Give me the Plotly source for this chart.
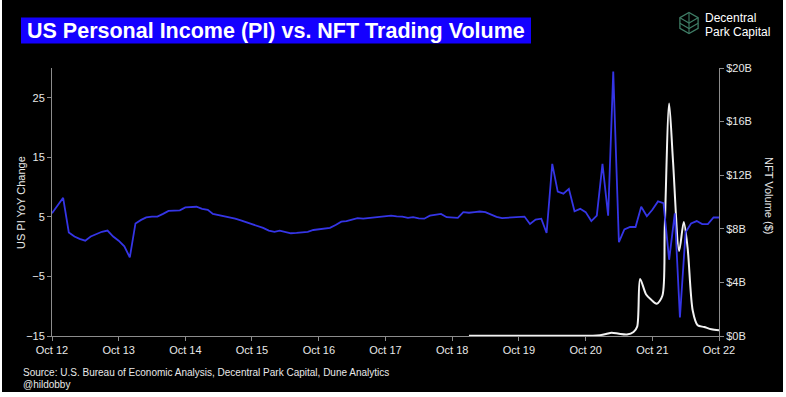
import pandas as pd
import plotly.graph_objects as go

# ---------------- data ----------------
pi_start = "2012-10-01"
pi_values = [
    5.6, 6.9, 8.2, 2.4, 1.7, 1.3, 1.0, 1.7, 2.1, 2.5, 2.7, 1.7,
    1.0, 0.05, -1.8, 3.9, 4.5, 4.9, 5.05, 5.05, 5.5, 6.0, 6.05, 6.1,
    6.6, 6.65, 6.7, 6.35, 6.2, 5.5, 5.3, 5.2, 4.9, 4.7, 4.4, 4.1,
    3.8, 3.4, 3.15, 2.7, 2.5, 2.7, 2.5, 2.25, 2.3, 2.4, 2.5, 2.8,
    2.95, 3.05, 3.15, 3.65, 4.2, 4.3, 4.5, 4.8, 4.7, 4.8, 4.9, 5.05,
    5.15, 5.2, 5.1, 5.05, 4.85, 4.95, 4.75, 4.7, 5.2, 5.4, 5.5, 4.95,
    4.9, 4.85, 5.8, 5.7, 5.8, 5.9, 5.8, 5.4, 5.0, 4.8, 4.85, 4.9,
    4.95, 5.05, 3.8, 4.55, 4.7, 2.3, 13.9, 9.25, 8.9, 9.7, 5.95, 6.35,
    5.8, 4.3, 5.2, 13.9, 5.2, 29.4, 0.75, 2.9, 3.3, 3.3, 6.7, 5.1,
    6.2, 7.6, 7.3, -2.2, 5.6, -11.9, 2.4, 3.9, 4.3, 3.8, 3.8, 4.9,
    4.9,
]
pi_dates = pd.date_range(pi_start, periods=len(pi_values), freq="MS")

nft_dates = [
    "2019-01-01", "2019-07-01", "2020-01-01", "2020-07-01", "2020-12-01",
    "2021-01-20", "2021-02-20", "2021-04-01", "2021-05-15", "2021-06-20",
    "2021-07-10", "2021-07-26", "2021-08-28", "2021-09-25", "2021-10-25",
    "2021-11-25", "2021-12-08", "2022-01-01", "2022-01-22", "2022-02-25",
    "2022-03-22", "2022-04-12", "2022-05-10", "2022-06-06", "2022-07-12",
    "2022-08-20", "2022-10-01",
]
nft_values = [
    0.02, 0.02, 0.02, 0.02, 0.03,
    0.15, 0.25, 0.17, 0.12, 0.3,
    0.7, 4.25, 3.1, 2.7, 2.4,
    3.0, 8.1, 17.35, 13.1, 6.35,
    8.5, 6.6, 1.9, 0.8, 0.67,
    0.5, 0.42,
]

x_tick_dates = [f"{y}-10-01" for y in range(2012, 2023)]
x_tick_text = [f"Oct {str(y)[2:]}" for y in range(2012, 2023)]
pi_ticks = [-15, -5, 5, 15, 25]
nft_ticks = [0, 4, 8, 12, 16, 20]
nft_tick_text = ["$0B", "$4B", "$8B", "$12B", "$16B", "$20B"]

# ---------------- geometry helpers ----------------
W, H = 786, 397
ML, MR, MT, MB = 52, 67, 68, 61
PW, PH = W - ML - MR, H - MT - MB


def px(x):
    return (x - ML) / PW


def py(y):
    return (H - MB - y) / PH


FONT = "Liberation Sans, Arial, Helvetica, sans-serif"
AXIS_COLOR = "#8c8c8c"
TEXT_COLOR = "#e8e8e8"

fig = go.Figure()

# NFT volume (right axis -> primary y so it is drawn below the PI line)
fig.add_trace(go.Scatter(
    x=nft_dates, y=nft_values, mode="lines", yaxis="y",
    line=dict(color="#f2f2f2", width=2, shape="spline", smoothing=0.8),
    hoverinfo="skip", showlegend=False,
))
# US PI YoY change (left axis)
fig.add_trace(go.Scatter(
    x=pi_dates, y=pi_values, mode="lines", yaxis="y2",
    line=dict(color="#3535e6", width=1.8),
    hoverinfo="skip", showlegend=False,
))

shapes = [
    # black card with thin white border
    dict(type="rect", xref="paper", yref="paper", layer="below",
         x0=px(2), x1=px(783), y0=py(392), y1=py(0),
         fillcolor="black", line=dict(width=0)),
    # title background
    dict(type="rect", xref="paper", yref="paper",
         x0=px(21), x1=px(531), y0=py(43.5), y1=py(17.5),
         fillcolor="#1400ff", line=dict(width=0)),
]

# logo icon (hexagon / leaf)
cx, cy, r = 689, 23, 10.5
hx = [cx, cx + 9.1, cx + 9.1, cx, cx - 9.1, cx - 9.1]
hy = [cy - r, cy - r / 2, cy + r / 2, cy + r, cy + r / 2, cy - r / 2]
hexpath = "M " + " L ".join(f"{px(a)},{py(b)}" for a, b in zip(hx, hy)) + " Z"
shapes.append(dict(type="path", xref="paper", yref="paper", path=hexpath,
                   line=dict(color="#3f7d66", width=1.3)))
for dy in (0, 5.5):
    p = (f"M {px(cx - 9.1)},{py(cy - r / 2 + dy)} L {px(cx)},{py(cy + dy)} "
         f"L {px(cx + 9.1)},{py(cy - r / 2 + dy)}")
    shapes.append(dict(type="path", xref="paper", yref="paper", path=p,
                       line=dict(color="#3f7d66", width=1.1)))
shapes.append(dict(type="line", xref="paper", yref="paper",
                   x0=px(cx), x1=px(cx), y0=py(cy - r), y1=py(cy + r),
                   line=dict(color="#3f7d66", width=1.1)))

annotations = [
    dict(text="<b>US Personal Income (PI) vs. NFT Trading Volume</b>",
         xref="paper", yref="paper", x=px(25), y=py(31),
         xanchor="left", yanchor="middle", showarrow=False,
         font=dict(family=FONT, size=21.5, color="white")),
    dict(text="Decentral", xref="paper", yref="paper", x=px(703), y=py(18),
         xanchor="left", yanchor="middle", showarrow=False,
         font=dict(family=FONT, size=12, color="white")),
    dict(text="Park Capital", xref="paper", yref="paper", x=px(703), y=py(32),
         xanchor="left", yanchor="middle", showarrow=False,
         font=dict(family=FONT, size=12, color="white")),
    dict(text="US PI YoY Change", xref="paper", yref="paper", x=px(21), y=py(203),
         xanchor="center", yanchor="middle", textangle=-90, showarrow=False,
         font=dict(family=FONT, size=11, color=TEXT_COLOR)),
    dict(text="NFT Volume ($)", xref="paper", yref="paper", x=px(769), y=py(195),
         xanchor="center", yanchor="middle", textangle=90, showarrow=False,
         font=dict(family=FONT, size=11, color=TEXT_COLOR)),
    dict(text="Source: U.S. Bureau of Economic Analysis, Decentral Park Capital, Dune Analytics",
         xref="paper", yref="paper", x=px(21), y=py(372),
         xanchor="left", yanchor="middle", showarrow=False,
         font=dict(family=FONT, size=10, color=TEXT_COLOR)),
    dict(text="@hildobby", xref="paper", yref="paper", x=px(21), y=py(384),
         xanchor="left", yanchor="middle", showarrow=False,
         font=dict(family=FONT, size=10, color=TEXT_COLOR)),
]

fig.update_layout(
    width=W, height=H,
    margin=dict(l=ML, r=MR, t=MT, b=MB),
    paper_bgcolor="white",
    plot_bgcolor="rgba(0,0,0,0)",
    font=dict(family=FONT, size=11, color=TEXT_COLOR),
    showlegend=False,
    xaxis=dict(
        type="date", range=["2012-10-01", "2022-10-01"],
        tickmode="array", tickvals=x_tick_dates, ticktext=x_tick_text,
        showgrid=False, zeroline=False,
        showline=True, linecolor=AXIS_COLOR, linewidth=1,
        ticks="outside", ticklen=4, tickcolor=AXIS_COLOR,
        tickfont=dict(family=FONT, size=11, color=TEXT_COLOR),
    ),
    yaxis=dict(
        side="right", range=[0, 20],
        tickmode="array", tickvals=nft_ticks, ticktext=nft_tick_text,
        showgrid=False, zeroline=False,
        showline=True, linecolor=AXIS_COLOR, linewidth=1,
        ticks="outside", ticklen=4, tickcolor=AXIS_COLOR,
        tickfont=dict(family=FONT, size=11, color=TEXT_COLOR),
    ),
    yaxis2=dict(
        side="left", overlaying="y", range=[-15, 30],
        tickmode="array", tickvals=pi_ticks,
        showgrid=False, zeroline=False,
        showline=True, linecolor=AXIS_COLOR, linewidth=1,
        ticks="outside", ticklen=4, tickcolor=AXIS_COLOR,
        tickfont=dict(family=FONT, size=11, color=TEXT_COLOR),
    ),
    shapes=shapes,
    annotations=annotations,
)

fig.write_html(
    "out.html",
    config={"displayModeBar": False},
    post_script="document.body.style.margin='0';document.body.style.background='white';",
)
